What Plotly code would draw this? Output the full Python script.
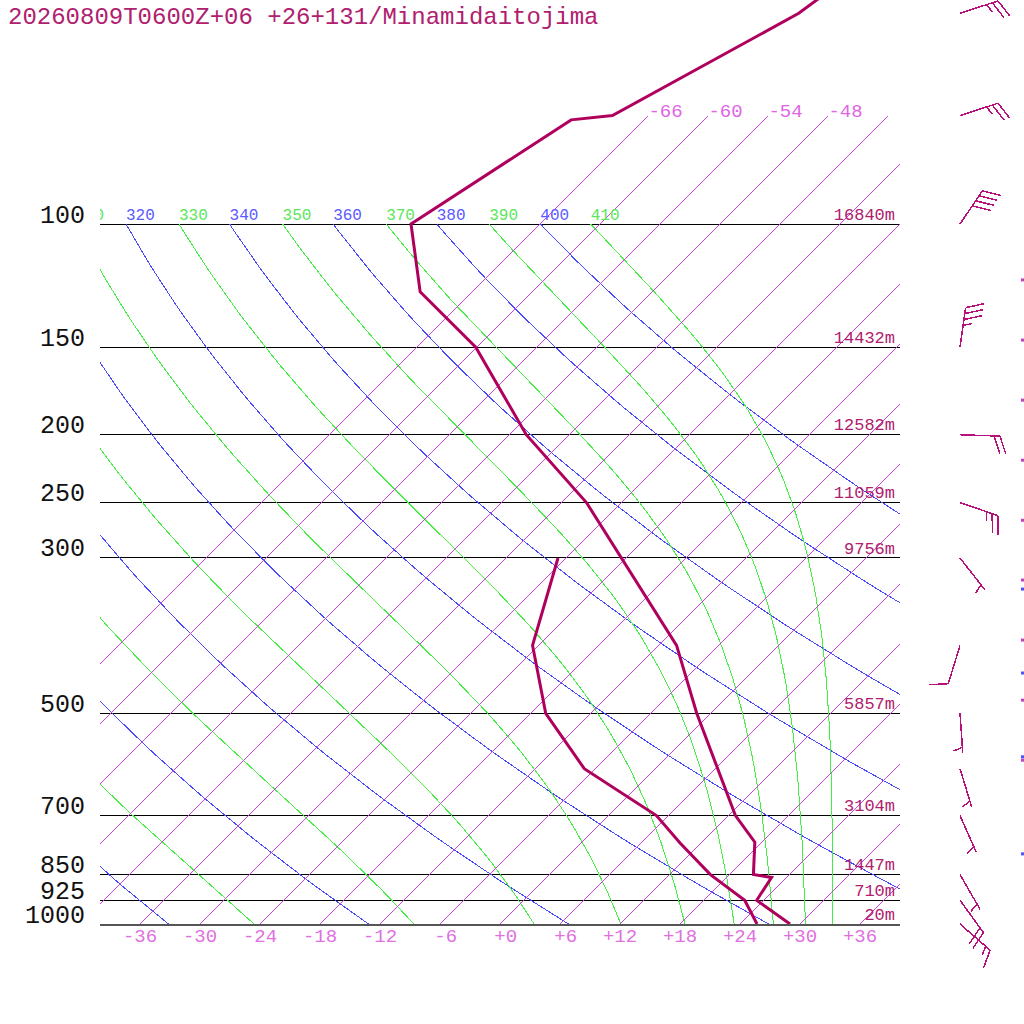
import numpy as np
import plotly.graph_objects as go

TITLE = "20260809T0600Z+06 +26+131/Minamidaitojima"

# pressure levels with their heights (right side labels)
levels = [100, 150, 200, 250, 300, 500, 700, 850, 925, 1000]
heights = ["16840m", "14432m", "12582m", "11059m", "9756m", "5857m", "3104m", "1447m", "710m", "20m"]

# background lines
isotherms = list(range(-66, 37, 6))
isotherm_top_labels = [-66, -60, -54, -48]
temp_ticks = list(range(-36, 37, 6))
theta = [240, 260, 280, 300, 320, 340, 360, 380, 400]
theta_e = [250, 270, 290, 310, 330, 350, 370, 390, 410]

# sounding: temperature
t_pres = [1000, 925, 858, 850, 764, 700, 500, 400, 250, 200, 150, 125, 100, 71, 70, 50, 40]
t_temp = [29.0, 23.3, 22.5, 20.4, 17.3, 12.7, -1.4, -10.2, -33.5, -46.3, -60.1, -71.2, -78.9, -73.3, -69.6, -61.2, -58.8]
# sounding: dew point
d_pres = [1000, 925, 850, 766, 700, 600, 500, 400, 300]
d_temp = [25.7, 22.1, 16.1, 9.9, 4.8, -7.1, -16.5, -24.6, -30.8]

# winds (direction the wind blows from, knots)
w_pres = [50, 70, 100, 150, 200, 250, 300, 400, 500, 600, 700, 850, 925, 1000]
w_dir = [72, 72, 34, 8, 92, 109, 142, 197, 176, 163, 156, 150, 144, 131]
w_spd = [25, 25, 40, 35, 20, 25, 5, 10, 5, 5, 5, 5, 20, 15]

# specks cut at the right edge
edge_pink = [120.2, 146.5, 178.5, 217.5, 265, 322.6, 393, 478.9, 583.4]
edge_blue = [332.3, 438, 577, 794]

SKEW = 70.0  # deg C per decade of pressure -> 45 degree isotherms
TOP_P = 70.0
PINK = "#cc44dd"
BLUE = "#4848ff"
GREEN = "#44ee44"
SOUND = "#b0005e"
TXT = "#b0206e"
MONO = "Liberation Mono"


def skew_x(t, p):
    return np.asarray(t, float) + SKEW * np.log10(1000.0 / np.asarray(p, float))


def theta_e_sat(tk, p):
    tc = tk - 273.15
    es = 6.112 * np.exp(17.67 * tc / (tc + 243.5))
    r = 622.0 * es / (p - es)
    return tk * (1000.0 / p) ** (0.2854 * (1 - 0.00028 * r)) * np.exp((3.376 / tk - 0.00254) * r * (1 + 0.00081 * r))


def moist_temp(the, p):
    lo = np.full_like(p, 150.0)
    hi = np.minimum(the * (p / 1000.0) ** 0.2854 + 1, 320.0)
    for i in range(60):
        mid = (lo + hi) / 2
        big = theta_e_sat(mid, p) > the
        hi = np.where(big, mid, hi)
        lo = np.where(big, lo, mid)
    return (lo + hi) / 2 - 273.15


fig = go.Figure()
pp = np.geomspace(1000, 100, 80)

for th in theta:
    tt = th * (pp / 1000.0) ** 0.2857 - 273.15
    fig.add_trace(go.Scatter(x=skew_x(tt, pp), y=pp, mode="lines",
                             line=dict(color=BLUE, width=1), hoverinfo="skip"))

for te in theta_e:
    tt = moist_temp(float(te), pp)
    fig.add_trace(go.Scatter(x=skew_x(tt, pp), y=pp, mode="lines",
                             line=dict(color=GREEN, width=1), hoverinfo="skip"))

# isotherms
for t in isotherms:
    px_ = np.array([1000.0, TOP_P])
    fig.add_trace(go.Scatter(x=skew_x([t, t], px_), y=px_, mode="lines",
                             line=dict(color=PINK, width=1), hoverinfo="skip"))

# labels of the adiabats at 100 hPa (only those that reach the plot)
lab_x, lab_t, lab_c = [], [], []
for th in theta:
    lab_x.append(float(skew_x(th * 0.1 ** 0.2857 - 273.15, 100)))
    lab_t.append(str(th))
    lab_c.append("#5a5aff")
for te in theta_e:
    lab_x.append(float(skew_x(moist_temp(float(te), np.array([100.0]))[0], 100)))
    lab_t.append(str(te))
    lab_c.append("#5ae65a")
keep = [i for i, v in enumerate(lab_x) if v > -44]
fig.add_trace(go.Scatter(x=[lab_x[i] for i in keep], y=[100] * len(keep), mode="text",
                         text=[lab_t[i] for i in keep], textposition="top right",
                         textfont=dict(family=MONO, size=16, color=[lab_c[i] for i in keep]),
                         hoverinfo="skip"))

# isotherm labels at the top
lab_p = 71.4
fig.add_trace(go.Scatter(x=skew_x(isotherm_top_labels, [TOP_P] * 4), y=[lab_p] * 4, mode="text",
                         text=[str(t) for t in isotherm_top_labels], textposition="top right",
                         textfont=dict(family=MONO, size=19, color="#e066e6"), hoverinfo="skip"))

# heights
fig.add_trace(go.Scatter(x=[39.5] * len(levels), y=levels, mode="text", text=heights,
                         textposition="top left", textfont=dict(family=MONO, size=17, color=TXT),
                         hoverinfo="skip"))

# sounding
fig.add_trace(go.Scatter(x=skew_x(t_temp, t_pres), y=t_pres, mode="lines",
                         line=dict(color=SOUND, width=3)))
fig.add_trace(go.Scatter(x=skew_x(d_temp, d_pres), y=d_pres, mode="lines",
                         line=dict(color=SOUND, width=3)))

# wind barbs (x2 in pixels, y2 log pressure)
bx, by = [], []
L, STEP, FULL = 40.0, 6.0, 19.0
for p, d, s in zip(w_pres, w_dir, w_spd):
    a = np.radians(d)
    ux, uy = np.sin(a), np.cos(a)
    fx = ux * np.cos(np.radians(70)) + uy * np.sin(np.radians(70))
    fy = -ux * np.sin(np.radians(70)) + uy * np.cos(np.radians(70))
    x0 = 60.0
    bx += [x0, x0 + L * ux, None]
    by += [p, p * 10 ** (-L * uy / 700), None]
    full, half = s // 10, (s % 10) // 5
    feathers = [FULL] * full + [FULL / 2] * half
    start = 1 if full == 0 else 0
    for k, fl in enumerate(feathers):
        dist = L - (k + start) * STEP
        sx, sy = x0 + dist * ux, dist * uy
        bx += [sx, sx + fl * fx, None]
        by += [p * 10 ** (-sy / 700), p * 10 ** (-(sy + fl * fy) / 700), None]
fig.add_trace(go.Scatter(x=bx, y=by, mode="lines", line=dict(color="#b8107a", width=1.5),
                         xaxis="x2", yaxis="y2", hoverinfo="skip"))
fig.add_trace(go.Scatter(x=[122.5] * len(edge_pink), y=edge_pink, mode="markers",
                         marker=dict(color="#c040c0", size=3, symbol="square"),
                         xaxis="x2", yaxis="y2", hoverinfo="skip"))
fig.add_trace(go.Scatter(x=[122.5] * len(edge_blue), y=edge_blue, mode="markers",
                         marker=dict(color="#5050ff", size=3, symbol="square"),
                         xaxis="x2", yaxis="y2", hoverinfo="skip"))

tick_text = [("\u00a0" + (f"+{t}" if t >= 0 else str(t))) if abs(t) < 10 else (f"+{t}" if t > 0 else str(t))
             for t in temp_ticks]

top = 3 - 924 / 700
fig.update_layout(
    width=1024, height=1024, margin=dict(l=0, r=0, t=0, b=0, pad=0),
    paper_bgcolor="white", plot_bgcolor="white", showlegend=False,
    xaxis=dict(domain=[100 / 1024, 900 / 1024], range=[-40, 40], tickvals=temp_ticks, ticktext=tick_text,
               showgrid=False, zeroline=False, showline=True, linecolor="#555555", linewidth=1.5,
               ticks="", ticklabelstandoff=-7,
               tickfont=dict(family=MONO, size=19, color="#e070e0"), anchor="y"),
    yaxis=dict(type="log", domain=[100 / 1024, 1], range=[3, top], tickvals=levels, showticklabels=False,
               showgrid=True, gridcolor="black", gridwidth=1, zeroline=False, ticks="", anchor="x"),
    xaxis2=dict(domain=[900 / 1024, 1], range=[0, 124], visible=False, anchor="y2"),
    yaxis2=dict(type="log", domain=[0, 1], range=[3 + 100 / 700, top], visible=False, anchor="x2"),
)

for p in levels:
    fig.add_annotation(x=87 / 1024, xref="paper", xanchor="right", y=np.log10(p), yref="y",
                       yanchor="middle", yshift=8, text=str(p), showarrow=False,
                       font=dict(family=MONO, size=25, color="#111111"))

fig.add_annotation(x=6 / 1024, xref="paper", xanchor="left", y=1 - 17 / 1024, yref="paper",
                   yanchor="middle", text=TITLE, showarrow=False,
                   font=dict(family=MONO, size=24, color=TXT))

# thin background lines drawn without anti-aliasing, like the original
js = ("document.body.style.margin='0px';"
      "document.querySelectorAll('path.js-line').forEach(function(e){"
      "if (parseFloat(e.style.strokeWidth) < 2.5) {e.style.shapeRendering='crispEdges';}});")
fig.write_html("out.html", config={"displayModeBar": False}, post_script=js)
